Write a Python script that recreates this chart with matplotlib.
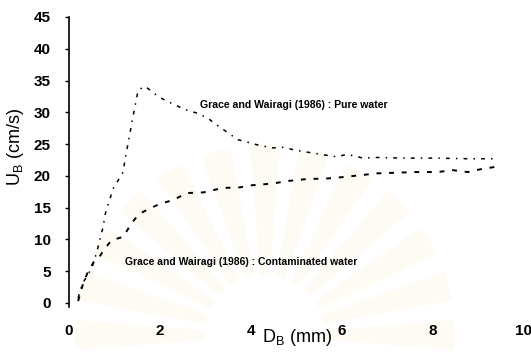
import matplotlib
matplotlib.use("Agg")
import matplotlib.pyplot as plt
from matplotlib.patches import Wedge, Circle

plt.rcParams['font.family'] = ['Liberation Sans', 'DejaVu Sans']

# bubble diameter (mm) and terminal rise velocity (cm/s)
pure_d = [0.2, 0.3, 0.5, 0.61, 0.75, 0.8, 0.97, 1.19, 1.23, 1.36, 1.4, 1.52,
          1.67, 1.78, 1.98, 2.2, 2.53, 2.8, 3.05, 3.19, 3.71, 3.93, 4.18,
          4.48, 4.7, 5.01, 5.52, 5.89, 6.11, 6.46, 6.77, 7.32, 8.04, 8.75,
          9.32]
pure_u = [0.8, 3.1, 5.5, 8.0, 12.0, 14.1, 18.0, 20.6, 22.5, 27.5, 29.1, 33.5,
          34.1, 33.5, 32.4, 31.6, 30.5, 29.9, 29.1, 28.3, 25.7, 25.3, 24.8,
          24.4, 24.5, 24.0, 23.4, 23.0, 23.4, 22.8, 22.9, 22.8, 22.8, 22.7,
          22.7]

cont_d = [0.2, 0.3, 0.42, 0.55, 0.68, 0.79, 0.94, 1.19, 1.38, 1.54, 1.78,
          2.0, 2.29, 2.59, 2.95, 3.38, 3.76, 3.98, 4.48, 4.81, 5.23, 5.69,
          6.0, 6.4, 6.77, 7.21, 7.56, 8.09, 8.44, 8.77, 9.08, 9.36]
cont_u = [0.3, 2.8, 5.0, 6.5, 7.4, 8.6, 9.9, 10.4, 12.6, 14.0, 14.9, 15.6,
          16.2, 17.3, 17.4, 18.1, 18.2, 18.5, 18.8, 19.2, 19.5, 19.6, 19.8,
          20.1, 20.4, 20.5, 20.6, 20.6, 20.9, 20.6, 21.1, 21.4]

x_ticks = [0, 2, 4, 6, 8, 10]
y_ticks = [0, 5, 10, 15, 20, 25, 30, 35, 40, 45]

pure_label = 'Grace and Wairagi (1986) : Pure water'
cont_label = 'Grace and Wairagi (1986) : Contaminated water'

fig = plt.figure(figsize=(5.31, 3.53), dpi=100)

# faint sunburst logo in the page background
bg = fig.add_axes([0, 0, 1, 1], zorder=0)
bg.set_xlim(0, 531)
bg.set_ylim(353, 0)
bg.set_aspect('equal')
bg.axis('off')
cx, cy = 265, 335
for a in range(180, 361, 15):
    bg.add_patch(Wedge((cx, cy), 190, a - 4.5, a + 4.5, width=130,
                       facecolor='#f4e6b8', edgecolor='none', alpha=0.15))
bg.add_patch(Circle((cx, cy), 60, facecolor='white', edgecolor='none'))

ax = fig.add_axes([69 / 531, 1 - 303 / 353, 455 / 531, 286 / 353], zorder=1)
ax.patch.set_alpha(0)

ax.plot(pure_d, pure_u, color='black', lw=1.1,
        linestyle=(0, (2.5, 4, 1, 4)))
ax.plot(cont_d, cont_u, color='black', lw=1.4,
        linestyle=(0, (2.5, 4)))

ax.set_xlim(0, 10)
ax.set_ylim(0, 45)
ax.set_xticks(x_ticks)
ax.set_yticks(y_ticks)
for s in ['top', 'right', 'bottom']:
    ax.spines[s].set_visible(False)
ax.spines['left'].set_linewidth(1.2)
ax.spines['left'].set_bounds(-0.6, 45)
ax.tick_params(axis='y', direction='out', length=3, width=1.0,
               labelsize=11, pad=10)
ax.tick_params(axis='x', length=0, labelsize=11, pad=15)
for lab in ax.get_xticklabels() + ax.get_yticklabels():
    lab.set_fontweight('bold')

ax.set_ylabel('U$_\\mathregular{B}$ (cm/s)', fontsize=13)
ax.yaxis.set_label_coords(-0.095, 0.545)
ax.text(5.0, -5.4, 'D$_\\mathregular{B}$ (mm)', fontsize=13, ha='center',
        va='center')

ax.text(2.88, 31.2, pure_label, fontsize=7.6, fontweight='bold',
        va='center')
ax.text(1.23, 6.4, cont_label, fontsize=7.5, fontweight='bold',
        va='center')

fig.savefig('out.png', dpi=100)
